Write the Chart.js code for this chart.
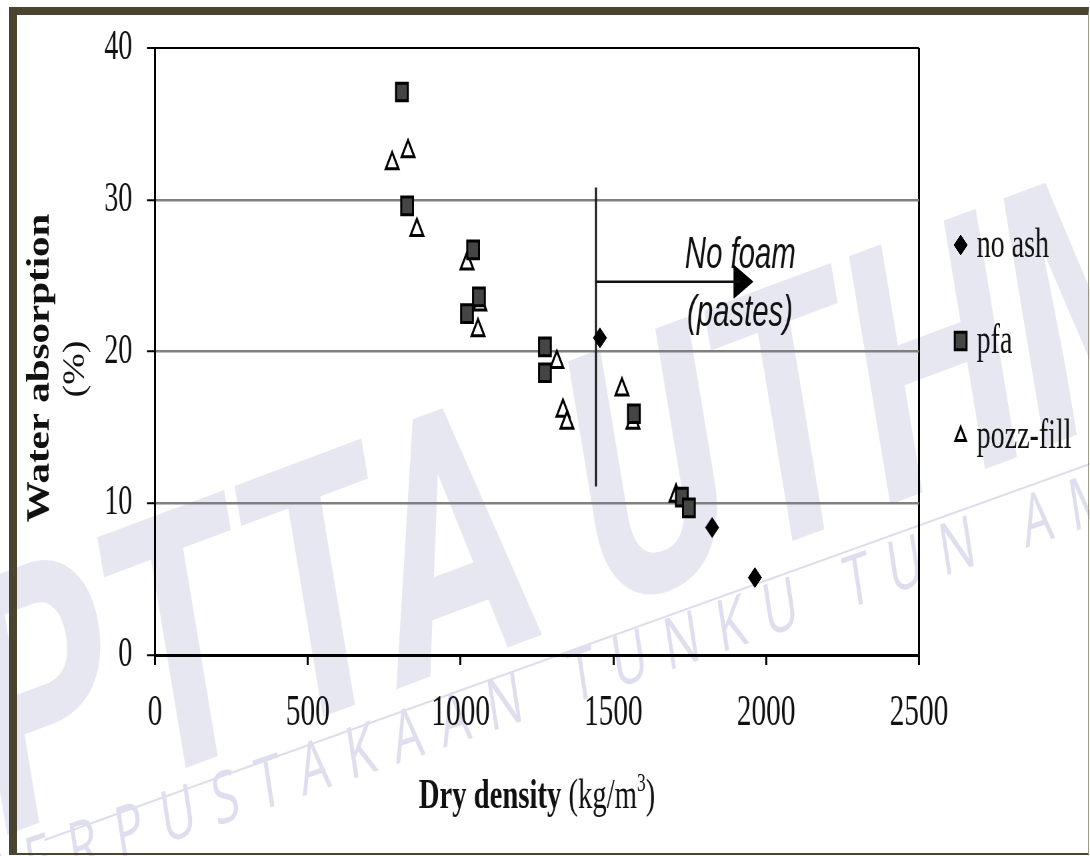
<!DOCTYPE html>
<html>
<head>
<meta charset="utf-8">
<script src="https://cdn.jsdelivr.net/npm/chart.js@4.4.1/dist/chart.umd.min.js"></script>
<style>
html, body { margin: 0; padding: 0; background: #fff; }
#wrap { position: relative; width: 1090px; height: 856px; overflow: hidden; background: #fff; }
#chart { position: absolute; left: 0; top: 0; }
#frame {
    position: absolute; left: 9px; top: 7px; right: 1px; bottom: 1px;
    border-top: 8px solid #4a4430; border-left: 8px solid #4a4430;
    border-right: 1px solid #a09a8a; border-bottom: 2px solid #4a4430;
    box-sizing: border-box; pointer-events: none;
}
</style>
</head>
<body>
<div id="wrap">
    <!-- the scan is stretched vertically, so the canvas is drawn 1.5x wider and squeezed back -->
    <canvas id="chart" width="1635" height="856" style="width:1090px;height:856px"></canvas>
    <div id="frame"></div>
</div>
<script>
// ---- data ----
const seriesNames = ['no ash', 'pfa', 'pozz-fill'];
const xTicks = [0, 500, 1000, 1500, 2000, 2500];
const yTicks = [0, 10, 20, 30, 40];

const noAshDensity = [1456, 1823, 1963];
const noAshAbsorption = [20.9, 8.4, 5.1];

const pfaDensity = [808, 825, 1041, 1060, 1021, 1276, 1276, 1567, 1724, 1747];
const pfaAbsorption = [37.1, 29.6, 26.7, 23.6, 22.5, 20.3, 18.6, 15.9, 10.4, 9.7];

const pozzDensity = [776, 828, 857, 1021, 1063, 1057, 1315, 1335, 1348, 1528, 1564, 1705];
const pozzAbsorption = [32.4, 33.2, 28.0, 25.8, 23.1, 21.4, 19.3, 16.1, 15.3, 17.5, 15.3, 10.5];

// "No foam" marker: vertical line, arrow to the right
const limitX = [1443, 1443];
const limitY = [11.1, 30.8];
const arrowX = [1443, 1915];
const arrowY = [24.6, 24.6];
const noteLines = ['No foam', '(pastes)'];
const noteX = [1734, 1741];
const noteY = [25.5, 21.7];

const xTitleParts = ['Dry density ', '(kg/m', '3', ')'];
const yTitleLines = ['Water absorption', '(%)'];
const markBig = 'PTTA UTHM';
const markSmall = 'PERPUSTAKAAN TUNKU TUN AMINAH';

const SERIF = '"Liberation Serif", "Times New Roman", serif';
const SANS = '"Liberation Sans", Arial, sans-serif';

const pts = (xs, ys) => xs.map((x, i) => ({ x: x, y: ys[i] }));

// fallback in case helpers.drawPoint is missing
function marker(ctx, style, r, x, y, bw) {
    if (Chart.helpers && Chart.helpers.drawPoint) {
        Chart.helpers.drawPoint(ctx, { pointStyle: style, radius: r, rotation: 0, borderWidth: bw }, x, y);
        return;
    }
    ctx.beginPath();
    if (style === 'rect') { const s = r * Math.SQRT1_2; ctx.rect(x - s, y - s, 2 * s, 2 * s); }
    else if (style === 'rectRot') { ctx.moveTo(x - r, y); ctx.lineTo(x, y - r); ctx.lineTo(x + r, y); ctx.lineTo(x, y + r); ctx.closePath(); }
    else { ctx.moveTo(x, y - r); ctx.lineTo(x + r * 0.866, y + r / 2); ctx.lineTo(x - r * 0.866, y + r / 2); ctx.closePath(); }
    ctx.fill();
    if (bw > 0) ctx.stroke();
}

const sheetPlugin = {
    id: 'sheet',
    beforeDraw(chart) {
        const ctx = chart.ctx;
        ctx.save();
        ctx.fillStyle = '#fff';
        ctx.fillRect(0, 0, chart.width, chart.height);

        // library watermark
        ctx.save();
        ctx.translate(-10, 840);
        ctx.rotate(-14 * Math.PI / 180);
        ctx.font = 'bold 360px Roboto, "DejaVu Sans", sans-serif';
        const w = ctx.measureText(markBig).width;
        ctx.scale(1900 / w, 1);
        ctx.fillStyle = '#e7e7f2';
        ctx.fillText(markBig, 0, 0);
        ctx.restore();

        ctx.save();
        ctx.strokeStyle = '#dcdcec';
        ctx.lineWidth = 2;
        ctx.beginPath();
        ctx.moveTo(67, 840);
        ctx.lineTo(1635, 464);
        ctx.stroke();
        ctx.translate(-25, 906);
        ctx.rotate(-12.9 * Math.PI / 180);
        ctx.font = '72px "Open Sans", sans-serif';
        ctx.letterSpacing = '27px';
        ctx.fillStyle = '#dedeee';
        ctx.fillText(markSmall, 0, 0);
        ctx.restore();

        ctx.restore();
    },
    afterDraw(chart) {
        const ctx = chart.ctx;
        const xs = chart.scales.x, ys = chart.scales.y;
        ctx.save();

        // legend
        const legX = 1441, legTextX = 1465;
        const legBase = [257, 353, 448];
        const legR = [10, 12.5, 9];
        for (let i = 0; i < 3; i++) {
            const ds = chart.data.datasets[i];
            const cy = legBase[i] - 12;
            ctx.fillStyle = ds.backgroundColor;
            ctx.strokeStyle = ds.borderColor;
            ctx.lineWidth = ds.borderWidth;
            marker(ctx, ds.pointStyle, legR[i], legX, cy, ds.borderWidth);
            ctx.font = '42px ' + SERIF;
            ctx.fillStyle = '#111';
            ctx.textAlign = 'left';
            ctx.textBaseline = 'alphabetic';
            ctx.fillText(ds.label, legTextX, legBase[i]);
        }

        // annotation text
        ctx.font = 'italic 44px ' + SANS;
        ctx.fillStyle = '#111';
        ctx.textAlign = 'left';
        noteLines.forEach((t, i) => ctx.fillText(t, xs.getPixelForValue(noteX[i]), ys.getPixelForValue(noteY[i])));

        // x title, bold part then regular unit
        const cx = (chart.chartArea.left + chart.chartArea.right) / 2;
        const base = 808;
        const fB = 'bold 43px ' + SERIF, fR = '43px ' + SERIF, fS = '26px ' + SERIF;
        ctx.font = fB; const w0 = ctx.measureText(xTitleParts[0]).width;
        ctx.font = fR; const w1 = ctx.measureText(xTitleParts[1]).width;
        ctx.font = fS; const w2 = ctx.measureText(xTitleParts[2]).width;
        ctx.font = fR; const w3 = ctx.measureText(xTitleParts[3]).width;
        let x = cx - (w0 + w1 + w2 + w3) / 2;
        ctx.font = fB; ctx.fillText(xTitleParts[0], x, base); x += w0;
        ctx.font = fR; ctx.fillText(xTitleParts[1], x, base); x += w1;
        ctx.font = fS; ctx.fillText(xTitleParts[2], x, base - 17); x += w2;
        ctx.font = fR; ctx.fillText(xTitleParts[3], x, base);

        // y title, rotated
        ctx.textAlign = 'center';
        ctx.textBaseline = 'middle';
        ctx.save();
        ctx.translate(60, 368);
        ctx.rotate(-Math.PI / 2);
        ctx.scale(1, 1.2);
        ctx.font = 'bold 41px ' + SERIF;
        ctx.fillText(yTitleLines[0], 0, 0);
        ctx.restore();
        ctx.save();
        ctx.translate(114, 369);
        ctx.rotate(-Math.PI / 2);
        ctx.scale(1, 1.2);
        ctx.font = '38px ' + SERIF;
        ctx.fillText(yTitleLines[1], 0, 0);
        ctx.restore();

        ctx.restore();
    }
};

new Chart(document.getElementById('chart'), {
    type: 'scatter',
    data: {
        datasets: [
            { label: seriesNames[0], data: pts(noAshDensity, noAshAbsorption), pointStyle: 'rectRot', pointRadius: 10,
              backgroundColor: '#000', borderColor: '#000', borderWidth: 1 },
            { label: seriesNames[1], data: pts(pfaDensity, pfaAbsorption), pointStyle: 'rect', pointRadius: 12.5,
              backgroundColor: '#454545', borderColor: '#000', borderWidth: 3 },
            { label: seriesNames[2], data: pts(pozzDensity, pozzAbsorption), pointStyle: 'triangle', pointRadius: 11,
              backgroundColor: '#fff', borderColor: '#000', borderWidth: 3 },
            { label: 'limit', data: pts(limitX, limitY), showLine: true, pointRadius: 0,
              borderColor: '#111', borderWidth: 3 },
            { label: 'arrow', data: pts(arrowX, arrowY), showLine: true, pointRadius: 0,
              borderColor: '#111', borderWidth: 2.5 },
            { label: 'head', data: pts(arrowX.slice(1), arrowY.slice(1)), pointStyle: 'triangle', rotation: 90,
              pointRadius: 19, backgroundColor: '#000', borderColor: '#000', borderWidth: 1 }
        ]
    },
    options: {
        responsive: false,
        devicePixelRatio: 1,
        animation: false,
        layout: { padding: { left: 0, top: 48, right: 256.5, bottom: 0 } },
        plugins: { legend: { display: false }, tooltip: { enabled: false } },
        scales: {
            x: {
                type: 'linear', min: xTicks[0], max: xTicks[xTicks.length - 1],
                afterBuildTicks: s => { s.ticks = xTicks.map(v => ({ value: v })); },
                afterFit: s => { s.height = 201; },
                ticks: { color: '#111', font: { family: SERIF, size: 44 }, padding: 22, maxRotation: 0, autoSkip: false,
                         callback: v => String(v) },
                grid: {
                    drawOnChartArea: true,
                    color: c => (c.tick && c.tick.value === 2500) ? '#000' : 'rgba(0,0,0,0)',
                    lineWidth: 3, tickColor: '#000', tickWidth: 3, tickLength: 10
                },
                border: { display: true, color: '#000', width: 3 },
                title: { display: false }
            },
            y: {
                type: 'linear', min: yTicks[0], max: yTicks[yTicks.length - 1],
                afterBuildTicks: s => { s.ticks = yTicks.map(v => ({ value: v })); },
                afterFit: s => { s.width = 232.5; },
                ticks: { color: '#111', font: { family: SERIF, size: 42 }, padding: 22, callback: v => String(v) },
                grid: {
                    color: c => (c.tick && (c.tick.value === 40 || c.tick.value === 0)) ? '#000' : '#808080',
                    lineWidth: c => (c.tick && c.tick.value === 40) ? 2 : 2.5,
                    tickColor: '#000', tickWidth: 2, tickLength: 12
                },
                border: { display: true, color: '#000', width: 3 },
                title: { display: false }
            }
        }
    },
    plugins: [sheetPlugin]
});
</script>
</body>
</html>
